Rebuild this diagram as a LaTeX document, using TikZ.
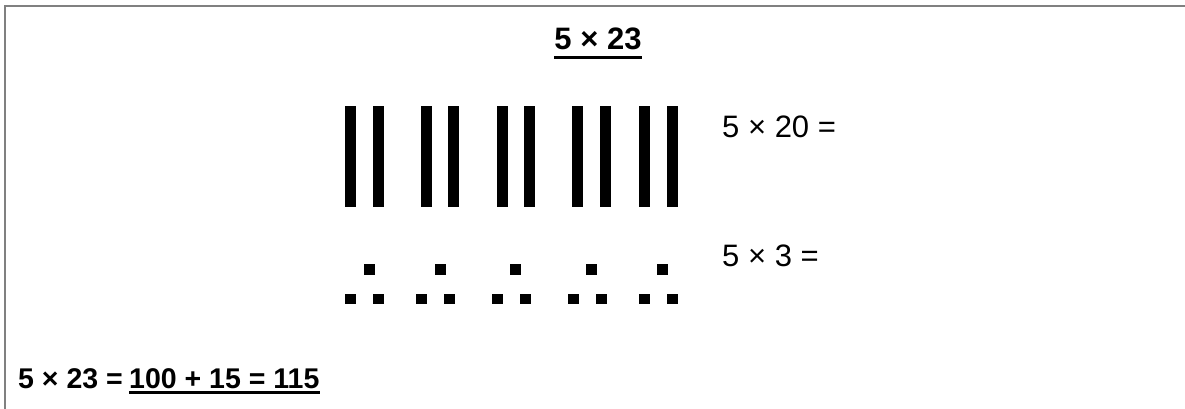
\documentclass[tikz,border=0pt]{standalone}
\usepackage{fontspec}
\setmainfont{Liberation Sans}
\begin{document}
\begin{tikzpicture}[x=1pt,y=-1pt,
  titlefont/.style={inner sep=0pt,font=\fontsize{31}{36}\selectfont\bfseries},
  bigbold/.style={inner sep=0pt,font=\fontsize{28.5}{34}\selectfont\bfseries},
  plain/.style={inner sep=0pt,font=\fontsize{31}{36}\selectfont},
  ul/.style={line width=3pt},
  bar/.style={fill=black},
  dot/.style={fill=black},
  frame/.style={draw=gray,line width=2pt}]
\useasboundingbox (0,0) rectangle (1185,409);
% frame
\draw[frame] (5,409) -- (5,6) -- (1185,6);
% title
\node[titlefont,anchor=base] (title) at (598,50) {5 × 23};
\draw[ul] ([yshift=-7.5pt]title.base west) -- ([yshift=-7.5pt]title.base east);
% bars
\foreach \x in {345,373,421,448,497,524,572,600,639,667}
  \fill[bar] (\x,106) rectangle +(11,101);
% dots
\foreach \x in {364,435,510,586,657}
  \fill[dot] (\x,264) rectangle +(11,11);
\foreach \x in {345,373,416,444,492,520,568,596,639,667}
  \fill[dot] (\x,294) rectangle +(11,10);
% right labels
\node[plain,anchor=base west] (l1) at (722,137) {5 × 20 =};
\node[plain,anchor=base west] (l2) at (722,266) {5 × 3 =};
% bottom
\node[bigbold,anchor=base west] (b1) at (18,388) {5 × 23 =};
\node[bigbold,anchor=base west] (b2) at (129,388) {100 + 15 = 115};
\draw[ul] ([yshift=-4.5pt]b2.base west) -- ([yshift=-4.5pt]b2.base east);
\end{tikzpicture}
\end{document}
